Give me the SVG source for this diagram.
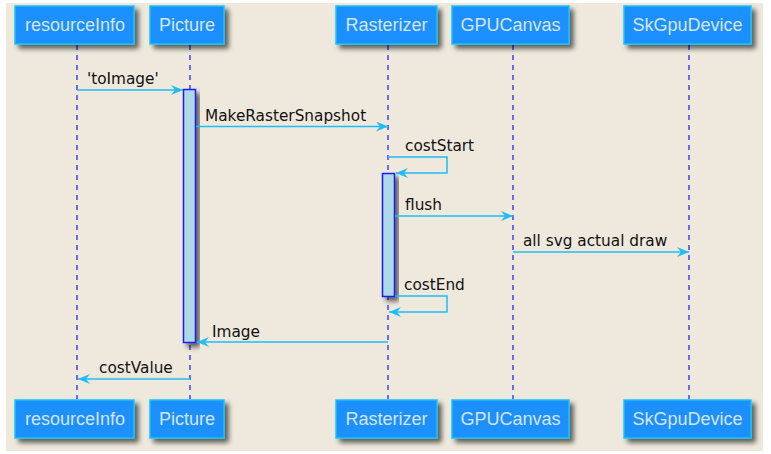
<svg xmlns="http://www.w3.org/2000/svg" width="771" height="454" viewBox="0 0 771 454">
<defs>
<filter id="sh" x="-20%" y="-20%" width="150%" height="160%">
<feDropShadow dx="4" dy="4" stdDeviation="2.5" flood-color="#000" flood-opacity="0.6"/>
</filter>
<marker id="ah" viewBox="0 0 13 10" refX="12" refY="5" markerWidth="13" markerHeight="10" markerUnits="userSpaceOnUse" orient="auto">
<polygon points="0,0 12,5 0,10 4,5" fill="#1EBEF5"/>
</marker>
</defs>
<style>
.box{fill:#1E90FF;stroke:#19C3F5;stroke-width:1.5;filter:url(#sh)}
.bt{font-family:"Liberation Sans",Arial,sans-serif;font-size:18px;fill:#D6E4F2;text-anchor:middle}
.life{stroke:#2828EE;stroke-width:1.3;stroke-dasharray:5,5;fill:none}
.act{fill:#ADD8E6;stroke:#1A1AF0;stroke-width:1.5;filter:url(#sh)}
.msg{stroke:#1EBEF5;stroke-width:1.5;fill:none;marker-end:url(#ah)}
.ml{font-family:"DejaVu Sans","Noto Sans",sans-serif;font-size:15.3px;fill:#111}
</style>
<rect x="6" y="3" width="757" height="448" fill="#EEE9DC"/>
<g id="lifelines">
<line class="life" x1="77" y1="45" x2="77" y2="399"/>
<line class="life" x1="190" y1="45" x2="190" y2="399"/>
<line class="life" x1="388" y1="45" x2="388" y2="399"/>
<line class="life" x1="513" y1="45" x2="513" y2="399"/>
<line class="life" x1="689" y1="45" x2="689" y2="399"/>
</g>
<g id="resourceInfo">
<rect class="box" x="15" y="6" width="119" height="38"/><text class="bt" x="75" y="31">resourceInfo</text>
<rect class="box" x="15" y="400" width="119" height="38"/><text class="bt" x="75" y="425">resourceInfo</text>
</g>
<g id="Picture">
<rect class="box" x="150" y="6" width="74" height="38"/><text class="bt" x="187" y="31">Picture</text>
<rect class="box" x="150" y="400" width="74" height="38"/><text class="bt" x="187" y="425">Picture</text>
</g>
<g id="Rasterizer">
<rect class="box" x="336" y="6" width="101" height="38"/><text class="bt" x="386.5" y="31">Rasterizer</text>
<rect class="box" x="336" y="400" width="101" height="38"/><text class="bt" x="386.5" y="425">Rasterizer</text>
</g>
<g id="GPUCanvas">
<rect class="box" x="452" y="6" width="117" height="38"/><text class="bt" x="510.5" y="31">GPUCanvas</text>
<rect class="box" x="452" y="400" width="117" height="38"/><text class="bt" x="510.5" y="425">GPUCanvas</text>
</g>
<g id="SkGpuDevice">
<rect class="box" x="624" y="6" width="127" height="38"/><text class="bt" x="687.5" y="31">SkGpuDevice</text>
<rect class="box" x="624" y="400" width="127" height="38"/><text class="bt" x="687.5" y="425">SkGpuDevice</text>
</g>
<g id="activations">
<rect class="act" x="183.5" y="89.5" width="12" height="253"/>
<rect class="act" x="382.5" y="173.5" width="12" height="123"/>
</g>
<g id="connectors">
<line class="msg" x1="77" y1="90" x2="183" y2="90"/>
<text class="ml" x="87" y="84">'toImage'</text>
<line class="msg" x1="196" y1="126.5" x2="388" y2="126.5"/>
<text class="ml" x="205" y="121">MakeRasterSnapshot</text>
<polyline class="msg" points="388,157 447,157 447,173 396,173"/>
<text class="ml" x="405" y="151">costStart</text>
<line class="msg" x1="395" y1="216" x2="513" y2="216"/>
<text class="ml" x="405" y="210">flush</text>
<line class="msg" x1="513" y1="252" x2="689" y2="252"/>
<text class="ml" x="523" y="246">all svg actual draw</text>
<polyline class="msg" points="395,296 447,296 447,312 389,312"/>
<text class="ml" x="404" y="290">costEnd</text>
<line class="msg" x1="388" y1="342" x2="197" y2="342"/>
<text class="ml" x="212" y="337">Image</text>
<line class="msg" x1="190" y1="379" x2="78" y2="379"/>
<text class="ml" x="99" y="373">costValue</text>
</g>
</svg>
